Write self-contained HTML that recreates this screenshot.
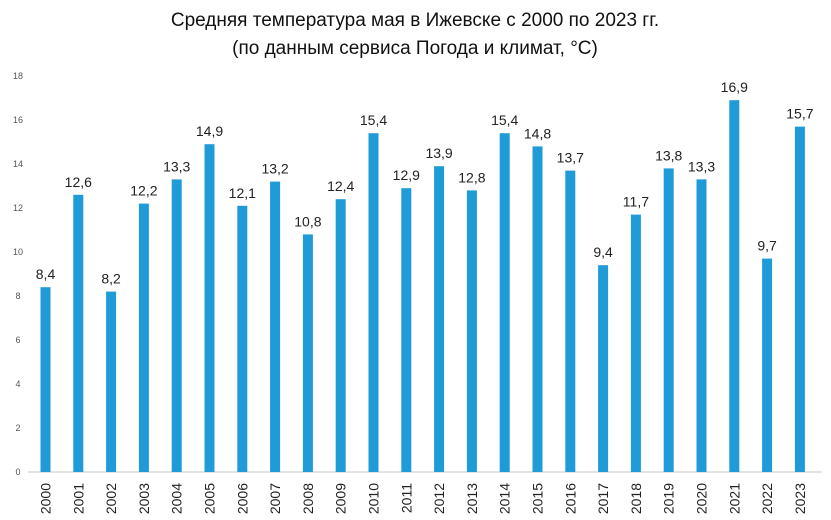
<!DOCTYPE html>
<html><head><meta charset="utf-8"><style>
body{margin:0;background:#fff;}
svg{display:block;font-family:"Liberation Sans",sans-serif;}
</style></head><body>
<svg id="c" width="831" height="520">
<text x="415" y="26" text-anchor="middle" font-size="19" fill="#111">Средняя температура мая в Ижевске с 2000 по 2023 гг.</text>
<text x="415" y="54" text-anchor="middle" font-size="19" fill="#111">(по данным сервиса Погода и климат, °С)</text>
<g id="plot"></g>
</svg>
<script>
const years=["2000","2001","2002","2003","2004","2005","2006","2007","2008","2009","2010","2011","2012","2013","2014","2015","2016","2017","2018","2019","2020","2021","2022","2023"];
const temps=[8.4,12.6,8.2,12.2,13.3,14.9,12.1,13.2,10.8,12.4,15.4,12.9,13.9,12.8,15.4,14.8,13.7,9.4,11.7,13.8,13.3,16.9,9.7,15.7];
const yTicks=[0,2,4,6,8,10,12,14,16,18];
const NS="http://www.w3.org/2000/svg";
const g=document.getElementById('plot');
const y0=472,yMax=18,pxTop=76;
const y=v=>y0-(v/yMax)*(y0-pxTop);
const x=i=>45.5+i*32.8;
function mk(t,a){const e=document.createElementNS(NS,t);for(const k in a)e.setAttribute(k,a[k]);g.appendChild(e);return e;}
yTicks.forEach(t=>{const e=mk('text',{x:18,y:y(t)+3,'text-anchor':'middle','font-size':9,fill:'#555'});e.textContent=t;

});
const ax=mk('line',{x1:28,x2:822,y1:y0,y2:y0,stroke:'#c8c8c8','stroke-width':1});


temps.forEach((v,i)=>{
const r=mk('rect',{x:x(i)-5,y:y(v),width:10,height:y0-y(v),fill:'#1f9bd7'});


const l=mk('text',{x:x(i),y:y(v)-8,'text-anchor':'middle','font-size':14,fill:'#222'});
l.textContent=String(v).replace('.',',');


const t=mk('text',{x:0,y:0,'text-anchor':'end','font-size':14,fill:'#222',transform:`translate(${x(i)+5},${y0+11}) rotate(-90)`});
t.textContent=years[i];


});
</script>
</body></html>
